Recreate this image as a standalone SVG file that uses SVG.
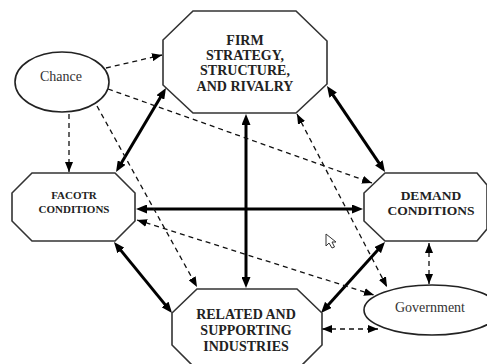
<svg xmlns="http://www.w3.org/2000/svg" width="487" height="364" viewBox="0 0 487 364">
<defs>
<style>
.oct{fill:#fff;stroke:#333;stroke-width:1.6}
.ell{fill:#fff;stroke:#222;stroke-width:1.6}
.lbl{font-family:"Liberation Serif","Times New Roman",serif;font-weight:bold;fill:#222;text-anchor:middle}
.reg{font-family:"Liberation Serif","Times New Roman",serif;fill:#333;text-anchor:middle;font-size:14px}
.thick{stroke:#000;stroke-width:3;fill:none;marker-start:url(#ah);marker-end:url(#ah)}
.dash{stroke:#111;stroke-width:1.3;fill:none;stroke-dasharray:5 4}
.d1{marker-end:url(#dh)}
.d2{marker-start:url(#dh);marker-end:url(#dh)}
</style>
<marker id="ah" viewBox="0 0 11 9" refX="4" refY="4.5" markerWidth="11" markerHeight="9" markerUnits="userSpaceOnUse" orient="auto-start-reverse">
<path d="M0,0 L11,4.5 L0,9 z" fill="#000"/>
</marker>
<marker id="dh" viewBox="0 0 10 8" refX="10" refY="4" markerWidth="10" markerHeight="8" markerUnits="userSpaceOnUse" orient="auto-start-reverse">
<path d="M0,0 L10,4 L0,8 z" fill="#000"/>
</marker>
</defs>
<rect width="487" height="364" fill="#fff"/>

<g id="connectors">
<line class="thick" x1="162.4" y1="94" x2="119.6" y2="166"/>
<line class="thick" x1="330.9" y1="91.8" x2="381.1" y2="166.2"/>
<line class="thick" x1="246" y1="121" x2="246" y2="281"/>
<line class="thick" x1="143" y1="209" x2="356" y2="209"/>
<line class="thick" x1="118.4" y1="247.4" x2="167.6" y2="307.6"/>
<line class="thick" x1="380.3" y1="247.2" x2="325.7" y2="307.8"/>
<line class="dash d1" x1="106" y1="68" x2="162" y2="55"/>
<line class="dash d1" x1="69" y1="114" x2="69" y2="172"/>
<line class="dash d1" x1="108" y1="89" x2="372" y2="183"/>
<line class="dash d1" x1="97" y1="106" x2="197" y2="287"/>
<line class="dash d2" x1="297" y1="114" x2="387" y2="287"/>
<line class="dash d2" x1="137" y1="220" x2="374" y2="295"/>
<line class="dash d2" x1="429" y1="243" x2="429" y2="284"/>
<line class="dash d2" x1="322" y1="329" x2="378" y2="329"/>
</g>

<g id="chance">
<ellipse class="ell" cx="62" cy="82" rx="47" ry="30"/>
<text class="reg" x="61" y="81">Chance</text>
</g>

<g id="firm">
<polygon class="oct" points="193,11 296,11 327,41 327,84 296,113 193,113 163,85 163,40"/>
<text class="lbl" font-size="14" x="245" y="45">FIRM</text>
<text class="lbl" font-size="14" x="245" y="60">STRATEGY,</text>
<text class="lbl" font-size="14" x="245" y="75">STRUCTURE,</text>
<text class="lbl" font-size="14" x="245" y="91">AND RIVALRY</text>
</g>

<g id="factor">
<polygon class="oct" points="32,173 115,173 135,193 135,221 115,241 32,241 12,221 12,193"/>
<text class="lbl" font-size="11" x="74" y="199">FACOTR</text>
<text class="lbl" font-size="11" x="74" y="213">CONDITIONS</text>
</g>

<g id="demand">
<polygon class="oct" points="385,173 477,173 487,185 487,229 477,241 385,241 364,221 364,193"/>
<text class="lbl" font-size="13.5" x="431" y="200">DEMAND</text>
<text class="lbl" font-size="13.5" x="431" y="215">CONDITIONS</text>
</g>

<g id="related">
<polygon class="oct" points="197,289 297,289 322,313 322,345 301,366 193,366 172,345 172,313"/>
<text class="lbl" font-size="14" x="246" y="319">RELATED AND</text>
<text class="lbl" font-size="14" x="246" y="335">SUPPORTING</text>
<text class="lbl" font-size="14" x="246" y="351">INDUSTRIES</text>
</g>

<g id="government">
<ellipse class="ell" cx="432" cy="310" rx="68" ry="25"/>
<text class="reg" x="430" y="312">Government</text>
</g>

<path d="M326,234 L326,246 L329,243 L332,248 L334.5,247 L332,242 L336,242 Z" fill="#fff" stroke="#333" stroke-width="1"/>
</svg>
